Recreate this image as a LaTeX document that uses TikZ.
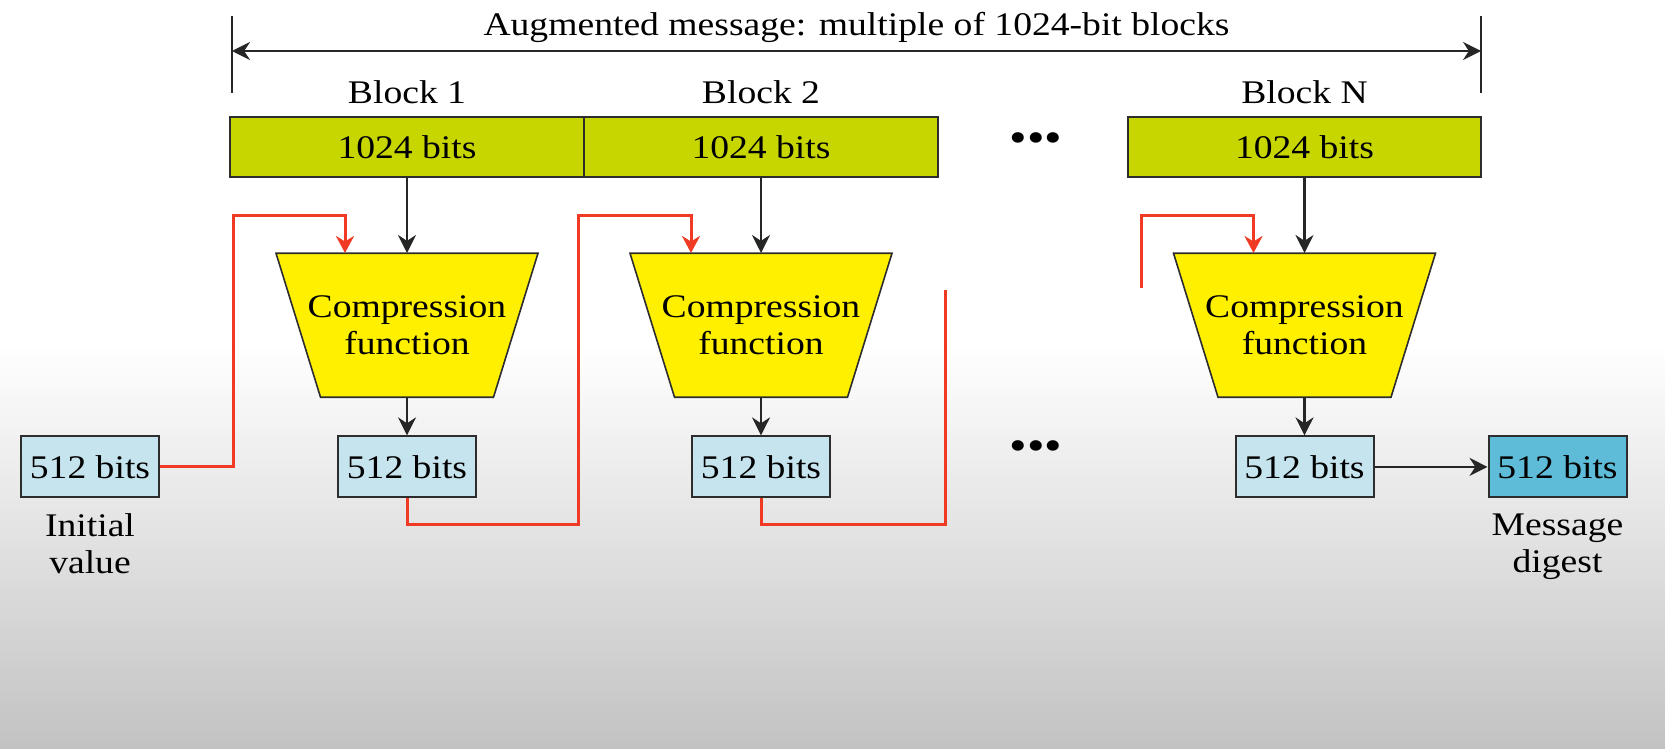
\documentclass[tikz,border=0pt]{standalone}
\usepackage{fontspec}
\setmainfont{Liberation Serif}[FakeStretch=1.14]
\usetikzlibrary{positioning, arrows.meta, calc}
\definecolor{blockgreen}{RGB}{200,214,0}
\definecolor{cfyellow}{RGB}{255,240,0}
\definecolor{hashblue}{RGB}{198,228,238}
\definecolor{digestblue}{RGB}{94,188,216}
\definecolor{chainred}{RGB}{240,58,36}
\definecolor{boxedge}{RGB}{45,45,45}
\definecolor{bggray}{RGB}{194,194,194}

\begin{document}
\begin{tikzpicture}[
    x=1pt, y=-1pt,
    font=\fontsize{33pt}{37pt}\selectfont,
    every node/.style={inner sep=0pt},
    blockbox/.style={draw=boxedge, line width=2pt, fill=blockgreen,
      minimum width=354pt, minimum height=60pt},
    hashbox/.style={draw=boxedge, line width=2pt, fill=hashblue,
      minimum width=138pt, minimum height=61pt},
    cfunc/.style={align=center, minimum width=264pt, minimum height=146pt,
      path picture={
        \filldraw[fill=cfyellow, draw=boxedge, line width=1.6pt]
          ([shift={(1pt,-1pt)}]path picture bounding box.north west)
          -- ([shift={(-1pt,-1pt)}]path picture bounding box.north east)
          -- ([shift={(-45.5pt,1pt)}]path picture bounding box.south east)
          -- ([shift={(45.5pt,1pt)}]path picture bounding box.south west)
          -- cycle;
      }},
    flow/.style={-{Stealth[length=18pt,width=18pt]}, line width=2.2pt, black!85},
    chain/.style={line width=3pt, chainred},
    chainin/.style={chain, -{Stealth[length=17pt,width=18pt]}},
    dots/.style={font=\fontsize{44pt}{44pt}\selectfont},
  ]
  \useasboundingbox (0,0) rectangle (1665,749);
  \fill[white] (0,0) rectangle (1665,345);
  \shade[top color=white, bottom color=bggray] (0,345) rectangle (1665,749);

  \coordinate (spanL) at (232,51);
  \coordinate (spanR) at (1481,51);
  \draw[line width=1.6pt, black!85] ([yshift=35pt]spanL) -- ([yshift=-42pt]spanL);
  \draw[line width=1.6pt, black!85] ([yshift=35pt]spanR) -- ([yshift=-42pt]spanR);
  \draw[
  {Stealth[length=18pt,width=18pt]}-{Stealth[length=18pt,width=18pt]},
  line width=2.2pt,
  black!85
  ] (spanL) -- (spanR);
  \node[above=8pt of {$(spanL) !.5! (spanR)$}] (title)
    {Augmented message: multiple of 1024-bit blocks};

  \node[blockbox] (blk1) at (407,147) {1024 bits};
  \node[blockbox, right=-2pt of blk1] (blk2) {1024 bits};
  \node[blockbox, minimum width=353pt] (blkN) at (1304.5,147) {1024 bits};
  \node[above=12pt of blk1] (lab1) {Block 1};
  \node[above=12pt of blk2] (lab2) {Block 2};
  \node[above=12pt of blkN] (labN) {Block N};
  \node[dots] (dotsA) at (1036,143) {•••};

  \node[cfunc, below=74pt of blk1] (c1) {Compression\\function};
  \node[cfunc, below=74pt of blk2] (c2) {Compression\\function};
  \node[cfunc, below=74pt of blkN] (cN) {Compression\\function};

  \node[hashbox, below=37pt of c1] (h1) {512 bits};
  \node[hashbox, left=177pt of h1] (h0) {512 bits};
  \node[hashbox, below=37pt of c2] (h2) {512 bits};
  \node[hashbox, below=37pt of cN] (hN) {512 bits};
  \node[hashbox, fill=digestblue, right=113pt of hN] (dig) {512 bits};
  \node[dots] (dotsB) at (1036,451) {•••};

  \node[align=center, below=15pt of h0] (ivlab) {Initial\\value};
  \node[align=center, below=15pt of dig] (mdlab) {Message\\digest};

  \draw[flow] (blk1.south) -- ([yshift=-1pt]c1.north);
  \draw[flow] (blk2.south) -- ([yshift=-1pt]c2.north);
  \draw[flow] (blkN.south) -- ([yshift=-1pt]cN.north);
  \draw[flow] ([yshift=1pt]c1.south) -- (h1.north);
  \draw[flow] ([yshift=1pt]c2.south) -- (h2.north);
  \draw[flow] ([yshift=1pt]cN.south) -- (hN.north);
  \draw[flow] (hN.east) -- (dig.west);

  \coordinate (open2) at (945,290);
  \coordinate (openN) at (1141,288);
  \draw[chainin] (h0.east) -| ([xshift=-174pt,yshift=37pt]c1.north)
    -| ([xshift=-62pt,yshift=-1pt]c1.north);
  \draw[chainin] (h1.south) -- ++(0,26)
    -| ([xshift=-183pt,yshift=37pt]c2.north) -| ([xshift=-70pt,yshift=-1pt]c2.north);
  \draw[chain] (h2.south) -- ++(0,26) -| (open2);
  \draw[chainin] (openN) |- ([xshift=-51pt,yshift=37pt]cN.north)
    -- ([xshift=-51pt,yshift=-1pt]cN.north);
\end{tikzpicture}
\end{document}
